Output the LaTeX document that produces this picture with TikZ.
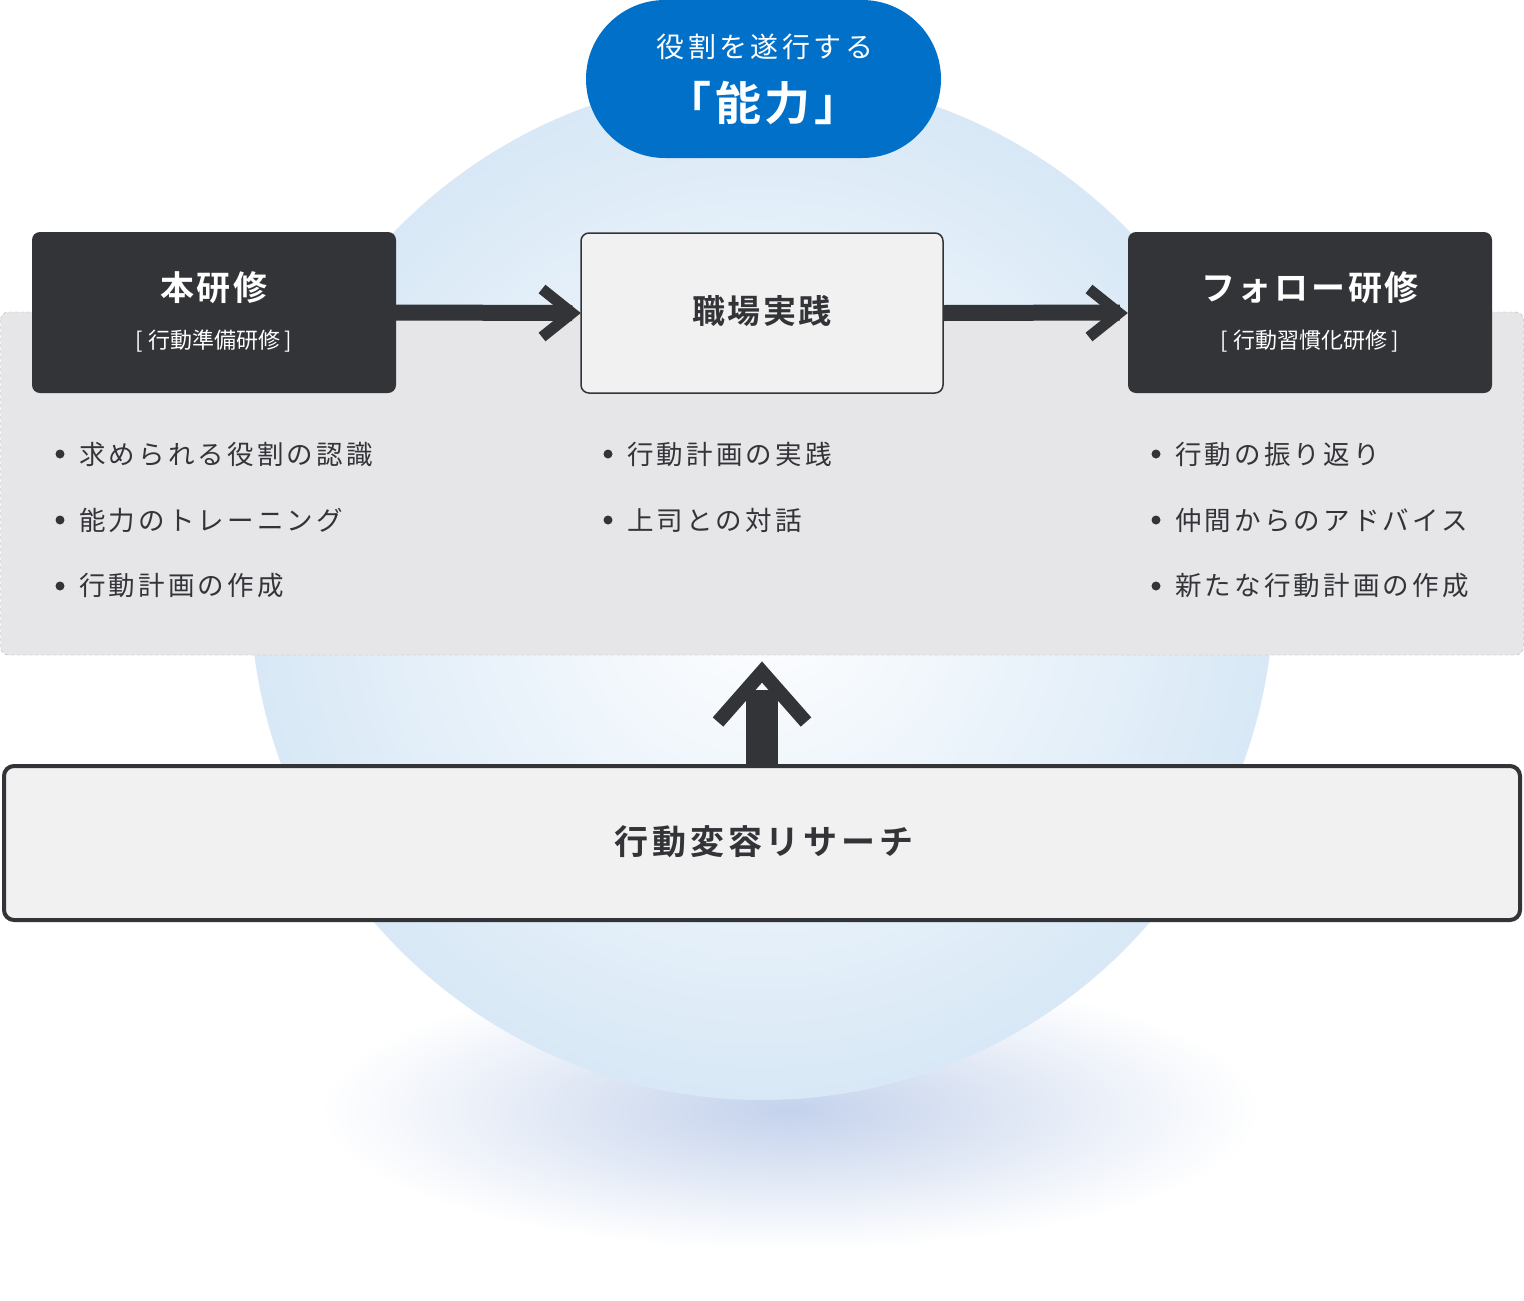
\documentclass[tikz,border=0pt]{standalone}
\usepackage{fontspec}
\setmainfont{Noto Sans CJK JP}
\newfontfamily\jpb[LetterSpace=8]{Noto Sans CJK JP Bold}
\newfontfamily\jpbw[LetterSpace=11]{Noto Sans CJK JP Bold}
\newfontfamily\jpr[LetterSpace=12]{Noto Sans CJK JP}
\usetikzlibrary{shapes.geometric}
\definecolor{dark}{HTML}{333438}
\definecolor{panel}{HTML}{E6E6E9}
\definecolor{pill}{HTML}{0070C9}
\definecolor{light}{HTML}{F1F1F1}
\definecolor{circ}{HTML}{D8E8F6}
\definecolor{shad}{HTML}{C4D2EC}
\tikzset{
 darkbox/.style={fill=dark,rounded corners=8pt},
 bul/.style={anchor=west,text=dark,font=\fontsize{26.5}{30}\selectfont\jpr},
 chev/.style={draw=dark,line width=11pt,line join=miter,line cap=butt},
}
\begin{document}
\begin{tikzpicture}[x=1pt,y=-1pt]
\useasboundingbox (0,0) rectangle (1524,1301);
\fill[white] (0,0) rectangle (1524,1301);
% shadow
\shade[inner color=shad, outer color=white] (790,1110) ellipse (470 and 140);
% circle
\shade[inner color=white, outer color=circ] (762,588) circle (512);
% panel
\draw[fill=panel,draw=gray!60,dashed,rounded corners=8pt] (0.5,312) rectangle (1523.5,655);
% boxes
\node[darkbox,minimum width=364pt,minimum height=161pt] (a) at (214,312.5) {};
\node[darkbox,minimum width=364pt,minimum height=161pt] (c) at (1310,312.5) {};
\node[fill=light,draw=dark,line width=1.5pt,rounded corners=8pt,minimum width=362pt,minimum height=160pt] (b) at (762,313) {};
\node[text=white,font=\fontsize{34}{38}\selectfont\jpb] at (214,288) {本研修};
\node[text=white,font=\fontsize{22}{26}\selectfont] at (214,341) {[ 行動準備研修 ]};
\node[text=white,font=\fontsize{34}{38}\selectfont\jpb] at (1310,288) {フォロー研修};
\node[text=white,font=\fontsize{22}{26}\selectfont] at (1310,341) {[ 行動習慣化研修 ]};
\node[text=dark,font=\fontsize{33}{38}\selectfont\jpb] at (762,311) {職場実践};
% arrows
\draw[draw=dark,line width=16pt] (a.east) -- ([xshift=-8pt]b.west);
\draw[chev] (542,289) -- (572,313) -- (542,337);
\draw[draw=dark,line width=16pt] (b.east) -- ([xshift=-8pt]c.west);
\draw[chev] (1089,289) -- (1119,313) -- (1089,337);
% bottom box
\node[fill=light,draw=dark,line width=4pt,rounded corners=10pt,minimum width=1516pt,minimum height=154pt] (d) at (762,843) {};
\node[text=dark,font=\fontsize{34}{38}\selectfont\jpbw] at (764,842) {行動変容リサーチ};
\coordinate (up) at (762,672);
\draw[draw=dark,line width=32pt] (d.north) -- (762,690);
\draw[chev,line width=14pt] (718,722) -- (up) -- (806,722);
% pill
\node[fill=pill,rounded corners=79pt,minimum width=355pt,minimum height=158pt] (p) at (763.5,79) {};
\node[text=white,font=\fontsize{28}{32}\selectfont\jpr] at (765,47) {役割を遂行する};
\node[text=white,font=\fontsize{46}{50}\selectfont\jpb] at (763,103) {「能力」};
% bullets
\foreach \x/\t/\y in {55/求められる役割の認識/454,55/能力のトレーニング/520,55/行動計画の作成/586,
 603/行動計画の実践/454,603/上司との対話/520,
 1151/行動の振り返り/454,1151/仲間からのアドバイス/520,1151/新たな行動計画の作成/586}
 {\fill[dark] (\x+5,\y) circle (4.5);
 \node[bul,inner xsep=0pt] at (\x+24,\y) {\t};}
\end{tikzpicture}
\end{document}
